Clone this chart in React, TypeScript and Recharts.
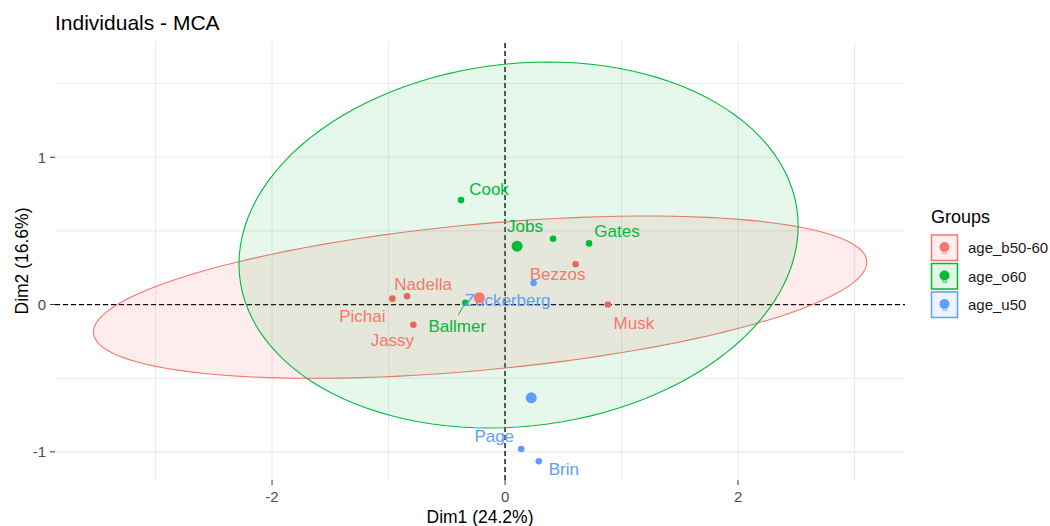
import { ReferenceLine, Scatter, ScatterChart, XAxis, YAxis } from 'recharts';

type Individual = { name: string; x: number; y: number };

// groups and their colours
const GROUP_NAMES = ['age_b50-60', 'age_o60', 'age_u50'];
const GROUP_COLORS = ['#F8766D', '#00BA38', '#619CFF'];
const DOT_COLORS = ['#E4695B', '#00BA38', '#619CFF'];
const FILL_OPACITY = [0.13, 0.1, 0.12];

// individuals: Dim1 / Dim2 coordinates by group
const B50_60_NAMES = ['Bezzos', 'Nadella', 'Pichai', 'Jassy', 'Musk'];
const B50_60_DIM1 = [0.606, -0.841, -0.967, -0.787, 0.883];
const B50_60_DIM2 = [0.273, 0.056, 0.04, -0.137, 0.0];

const O60_NAMES = ['Cook', 'Jobs', 'Gates', 'Ballmer'];
const O60_DIM1 = [-0.378, 0.412, 0.721, -0.341];
const O60_DIM2 = [0.709, 0.447, 0.415, 0.012];

const U50_NAMES = ['Zuckerberg', 'Page', 'Brin'];
const U50_DIM1 = [0.245, 0.139, 0.29];
const U50_DIM2 = [0.146, -0.981, -1.064];

// confidence ellipses (centre, half spread on each dim, correlation)
const ELLIPSE_B50_60 = { cx: -0.214, cy: 0.05, a: 3.32, b: 0.551, rho: 0.43 };
const ELLIPSE_O60 = { cx: 0.116, cy: 0.404, a: 2.4, b: 1.242, rho: 0.104 };

const X_DOMAIN: [number, number] = [-3.863, 3.433];
const Y_DOMAIN: [number, number] = [-1.191, 1.782];
const X_TICKS = [-2, 0, 2];
const Y_TICKS = [-1, 0, 1];
const X_GRID = [-3, -2, -1, 0, 1, 2, 3];
const Y_GRID = [-1, -0.5, 0, 0.5, 1, 1.5];

// repelled label placement relative to each dot (px, text centre / baseline)
const LABEL_OFFSETS: Record<string, { dx: number; dy: number; segment?: [number, number] }> = {
  Bezzos: { dx: -18, dy: 16 },
  Nadella: { dx: 16, dy: -6 },
  Pichai: { dx: -30, dy: 23 },
  Jassy: { dx: -21, dy: 21 },
  Musk: { dx: 26, dy: 24 },
  Cook: { dx: 28, dy: -5 },
  Jobs: { dx: -28, dy: -7 },
  Gates: { dx: 28, dy: -6 },
  Ballmer: { dx: -8, dy: 29, segment: [-7, 12] },
  Zuckerberg: { dx: -26, dy: 23 },
  Page: { dx: -27, dy: -7 },
  Brin: { dx: 25, dy: 14 },
};

const FONT = '"Liberation Sans", Arial, sans-serif';

function toRows(names: string[], dim1: number[], dim2: number[]): Individual[] {
  return names.map((name, i) => ({ name, x: dim1[i], y: dim2[i] }));
}

function mean(values: number[]) {
  return values.reduce((s, v) => s + v, 0) / values.length;
}

function ellipseOutline(e: { cx: number; cy: number; a: number; b: number; rho: number }) {
  const steps = 120;
  const pts = [];
  const s = Math.sqrt(1 - e.rho * e.rho);
  for (let i = 0; i <= steps; i++) {
    const t = (2 * Math.PI * i) / steps;
    pts.push({
      x: e.cx + e.a * Math.cos(t),
      y: e.cy + e.b * (e.rho * Math.cos(t) + s * Math.sin(t)),
    });
  }
  return pts;
}

const groups = [
  toRows(B50_60_NAMES, B50_60_DIM1, B50_60_DIM2),
  toRows(O60_NAMES, O60_DIM1, O60_DIM2),
  toRows(U50_NAMES, U50_DIM1, U50_DIM2),
];

const centroids = [B50_60_DIM1, O60_DIM1, U50_DIM1].map((d1, i) => [
  { x: mean(d1), y: mean([B50_60_DIM2, O60_DIM2, U50_DIM2][i]) },
]);

const ellipses = [ellipseOutline(ELLIPSE_B50_60), ellipseOutline(ELLIPSE_O60)];

const makeDot = (dotColor: string, textColor: string) => (props: any) => {
  const { cx, cy, payload } = props;
  const off = LABEL_OFFSETS[payload.name] ?? { dx: 0, dy: -8 };
  return (
    <g>
      {off.segment && (
        <line
          x1={cx}
          y1={cy}
          x2={cx + off.segment[0]}
          y2={cy + off.segment[1]}
          stroke={textColor}
          strokeWidth={1}
        />
      )}
      <circle cx={cx} cy={cy} r={3.3} fill={dotColor} />
      <text
        x={cx + off.dx}
        y={cy + off.dy}
        textAnchor='middle'
        fontSize={17}
        fontFamily={FONT}
        fill={textColor}
      >
        {payload.name}
      </text>
    </g>
  );
};

const makeCentroid = (color: string) => (props: any) => (
  <circle cx={props.cx} cy={props.cy} r={5.5} fill={color} />
);

const noDot = () => <g />;

export default function App() {
  return (
    <div
      style={{
        position: 'absolute',
        left: 0,
        top: 0,
        width: 1050,
        height: 526,
        background: '#ffffff',
        fontFamily: FONT,
      }}
    >
      <ScatterChart
        width={1050}
        height={526}
        margin={{ top: 42, right: 145, bottom: 0, left: 0 }}
      >
        {X_GRID.map((v) => (
          <ReferenceLine key={'gx' + v} x={v} stroke='#EBEBEB' strokeWidth={1.1} />
        ))}
        {Y_GRID.map((v) => (
          <ReferenceLine key={'gy' + v} y={v} stroke='#EBEBEB' strokeWidth={1.1} />
        ))}

        <XAxis
          type='number'
          dataKey='x'
          domain={X_DOMAIN}
          allowDataOverflow
          ticks={X_TICKS}
          height={46}
          axisLine={false}
          tickSize={5}
          tickMargin={6}
          tickLine={{ stroke: '#333333' }}
          tick={{ fill: '#4D4D4D', fontSize: 15, fontFamily: FONT }}
        />
        <YAxis
          type='number'
          dataKey='y'
          domain={Y_DOMAIN}
          allowDataOverflow
          ticks={Y_TICKS}
          width={55}
          axisLine={false}
          tickSize={5}
          tickMargin={4}
          tickLine={{ stroke: '#333333' }}
          tick={{ fill: '#4D4D4D', fontSize: 15, fontFamily: FONT }}
        />

        {ellipses.map((pts, i) => (
          <Scatter
            key={'ell' + i}
            data={pts}
            fill={GROUP_COLORS[i]}
            line={{
              stroke: GROUP_COLORS[i],
              strokeWidth: 1.1,
              fill: GROUP_COLORS[i],
              fillOpacity: FILL_OPACITY[i],
            }}
            lineType='joint'
            shape={noDot}
            isAnimationActive={false}
          />
        ))}

        <ReferenceLine x={0} stroke='#000000' strokeDasharray='5 3' strokeWidth={1.3} />
        <ReferenceLine y={0} stroke='#000000' strokeDasharray='5 3' strokeWidth={1.3} />

        {groups.map((rows, i) => (
          <Scatter
            key={'ind' + i}
            data={rows}
            shape={makeDot(DOT_COLORS[i], GROUP_COLORS[i])}
            isAnimationActive={false}
          />
        ))}

        {centroids.map((rows, i) => (
          <Scatter
            key={'cen' + i}
            data={rows}
            shape={makeCentroid(GROUP_COLORS[i])}
            isAnimationActive={false}
          />
        ))}
      </ScatterChart>

      <svg
        width={1050}
        height={526}
        style={{ position: 'absolute', left: 0, top: 0, pointerEvents: 'none' }}
        fontFamily={FONT}
      >
        <text x={55} y={30} fontSize={21} fill='#000000'>
          Individuals - MCA
        </text>
        <text x={480} y={523} fontSize={17.5} fill='#000000' textAnchor='middle'>
          Dim1 (24.2%)
        </text>
        <text
          x={28}
          y={261}
          fontSize={17.5}
          fill='#000000'
          textAnchor='middle'
          transform='rotate(-90 28 261)'
        >
          Dim2 (16.6%)
        </text>

        <text x={931} y={223} fontSize={18} fill='#000000'>
          Groups
        </text>
        {GROUP_NAMES.map((g, i) => {
          const top = 235 + i * 28.5;
          return (
            <g key={g}>
              <rect
                x={931.5}
                y={top}
                width={26}
                height={25.5}
                fill={GROUP_COLORS[i]}
                fillOpacity={0.12}
                stroke={GROUP_COLORS[i]}
                strokeWidth={1.5}
              />
              <circle cx={944.5} cy={top + 12} r={5} fill={GROUP_COLORS[i]} />
              <text
                x={944.5}
                y={top + 19}
                fontSize={10}
                textAnchor='middle'
                fill={GROUP_COLORS[i]}
                fillOpacity={0.8}
              >
                a
              </text>
              <text x={968} y={top + 18} fontSize={15} fill='#1A1A1A'>
                {g}
              </text>
            </g>
          );
        })}
      </svg>
    </div>
  );
}
